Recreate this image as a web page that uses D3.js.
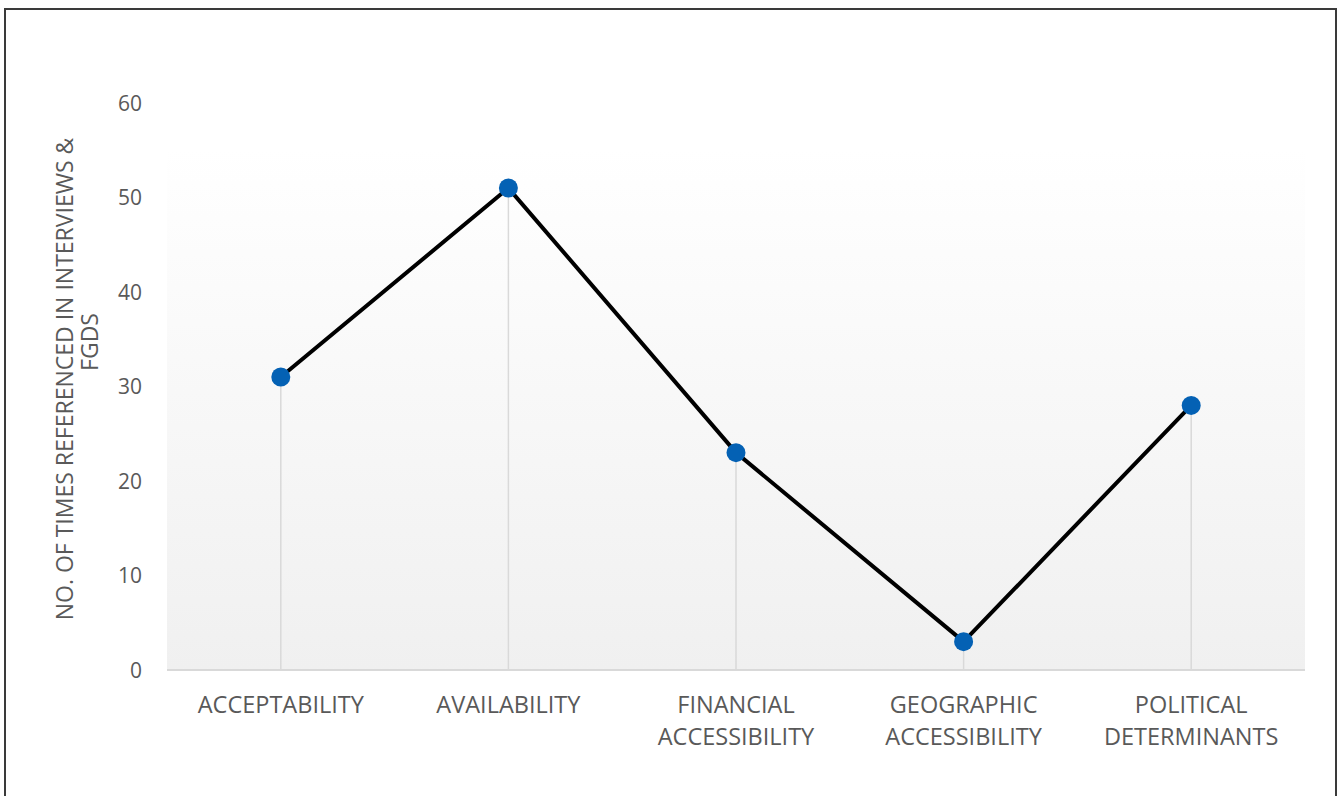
<!DOCTYPE html>
<html>
<head>
<meta charset="utf-8">
<script src="https://cdn.jsdelivr.net/npm/d3@7"></script>
<style>
  html, body { margin: 0; padding: 0; background: #fff; }
  svg { display: block; }
  text { font-family: "Open Sans", "Noto Sans", sans-serif; fill: #595959; }
</style>
</head>
<body>
<svg id="chart" width="1338" height="796"></svg>
<script>
const categories = [
  ["ACCEPTABILITY"],
  ["AVAILABILITY"],
  ["FINANCIAL", "ACCESSIBILITY"],
  ["GEOGRAPHIC", "ACCESSIBILITY"],
  ["POLITICAL", "DETERMINANTS"]
];
const values = [31, 51, 23, 3, 28];
const yTicks = [0, 10, 20, 30, 40, 50, 60];
const yTitleLines = ["NO. OF TIMES REFERENCED IN INTERVIEWS &", "FGDS"];

const svg = d3.select("#chart");
const mLeft = 167, mRight = 1305, mTop = 103, mBottom = 670;

// frame
svg.append("rect").attr("x", 5).attr("y", 9).attr("width", 1331).attr("height", 800)
  .attr("fill", "#fff").attr("stroke", "#3a3a3a").attr("stroke-width", 2);

const defs = svg.append("defs");
const grad = defs.append("linearGradient").attr("id", "pa").attr("x1", 0).attr("y1", 0).attr("x2", 0).attr("y2", 1);
grad.append("stop").attr("offset", "0%").attr("stop-color", "#ffffff");
grad.append("stop").attr("offset", "8%").attr("stop-color", "#ffffff");
grad.append("stop").attr("offset", "100%").attr("stop-color", "#f0f0f0");

const x = d3.scaleBand().domain(d3.range(categories.length)).range([mLeft, mRight]);
const y = d3.scaleLinear().domain([0, 60]).range([mBottom, mTop]);

svg.append("rect").attr("x", mLeft).attr("y", mTop).attr("width", mRight - mLeft).attr("height", mBottom - mTop)
  .attr("fill", "url(#pa)");

const cx = i => x(i) + x.bandwidth() / 2;

// drop lines
svg.append("g").selectAll("line").data(values).join("line")
  .attr("x1", (d, i) => cx(i)).attr("x2", (d, i) => cx(i))
  .attr("y1", d => y(d)).attr("y2", y(0))
  .attr("stroke", "#d9d9d9").attr("stroke-width", 1.5);

// x axis line
svg.append("line").attr("x1", mLeft).attr("x2", mRight).attr("y1", y(0)).attr("y2", y(0))
  .attr("stroke", "#d9d9d9").attr("stroke-width", 2);

// y tick labels
svg.append("g").selectAll("text").data(yTicks).join("text")
  .attr("x", 142).attr("y", d => y(d)).attr("dy", "0.36em")
  .attr("text-anchor", "end").attr("font-size", 21).text(d => d);

// x labels
const xl = svg.append("g").selectAll("text").data(categories).join("text")
  .attr("text-anchor", "middle").attr("font-size", 23.5)
  .attr("x", (d, i) => cx(i)).attr("y", 713);
xl.selectAll("tspan").data(d => d).join("tspan")
  .attr("x", function() { return d3.select(this.parentNode).attr("x"); })
  .attr("dy", (d, j) => j === 0 ? 0 : 32).text(d => d);

// y title
svg.append("text").attr("transform", "translate(73,379) rotate(-90)")
  .attr("text-anchor", "middle").attr("font-size", 23).text(yTitleLines[0]);
svg.append("text").attr("transform", "translate(98,342) rotate(-90)")
  .attr("text-anchor", "middle").attr("font-size", 23).text(yTitleLines[1]);

// line
const line = d3.line().x((d, i) => cx(i)).y(d => y(d));
svg.append("path").datum(values).attr("d", line)
  .attr("fill", "none").attr("stroke", "#000").attr("stroke-width", 4).attr("stroke-linejoin", "round");

// markers
svg.append("g").selectAll("circle").data(values).join("circle")
  .attr("cx", (d, i) => cx(i)).attr("cy", d => y(d)).attr("r", 9.5)
  .attr("fill", "#0461b4");
</script>
</body>
</html>
